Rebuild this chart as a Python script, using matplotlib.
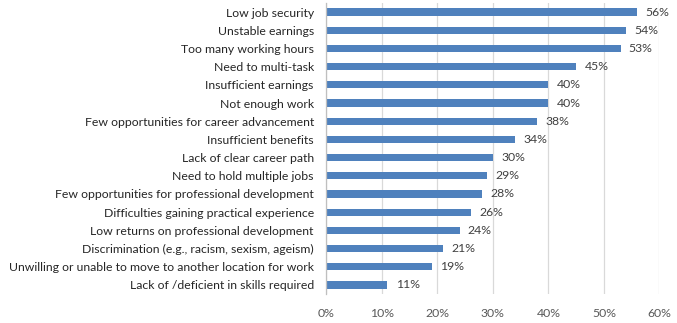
import matplotlib
matplotlib.use("Agg")
import matplotlib.pyplot as plt
from matplotlib.ticker import FuncFormatter

categories = [
    "Low job security",
    "Unstable earnings",
    "Too many working hours",
    "Need to multi-task",
    "Insufficient earnings",
    "Not enough work",
    "Few opportunities for career advancement",
    "Insufficient benefits",
    "Lack of clear career path",
    "Need to hold multiple jobs",
    "Few opportunities for professional development",
    "Difficulties gaining practical experience",
    "Low returns on professional development",
    "Discrimination (e.g., racism, sexism, ageism)",
    "Unwilling or unable to move to another location for work",
    "Lack of /deficient in skills required",
]
values = [56, 54, 53, 45, 40, 40, 38, 34, 30, 29, 28, 26, 24, 21, 19, 11]
x_ticks = [0, 10, 20, 30, 40, 50, 60]

plt.rcParams["font.family"] = ["Lato", "DejaVu Sans"]

fig = plt.figure(figsize=(6.77, 3.23), dpi=100)
ax = fig.add_axes([0.482, 0.0898, 0.492, 0.901])

ypos = list(range(len(categories)))
ax.barh(ypos, values, height=0.4, color="#4F81BD", zorder=3)
for y, v in zip(ypos, values):
    ax.annotate(f"{v}%", (v, y), xytext=(6, 0), textcoords="offset points",
                va="center", ha="left", fontsize=8.8, color="#404040")

ax.set_yticks(ypos)
ax.set_yticklabels(categories, fontsize=8.8, color="#262626")
ax.set_ylim(len(categories) - 0.5, -0.5)
ax.set_xlim(0, 60)
ax.set_xticks(x_ticks)
ax.xaxis.set_major_formatter(FuncFormatter(lambda v, p: f"{int(v)}%"))
ax.tick_params(axis="x", length=0, labelsize=8.8, labelcolor="#595959", pad=10)
ax.tick_params(axis="y", length=0, pad=9)
ax.grid(axis="x", color="#D9D9D9", linewidth=0.9, zorder=0)
for s in ["top", "right", "bottom"]:
    ax.spines[s].set_visible(False)
ax.spines["left"].set_color("#BFBFBF")
ax.spines["left"].set_linewidth(0.9)
ax.spines["left"].set_zorder(4)

fig.savefig("out.png", dpi=100)
